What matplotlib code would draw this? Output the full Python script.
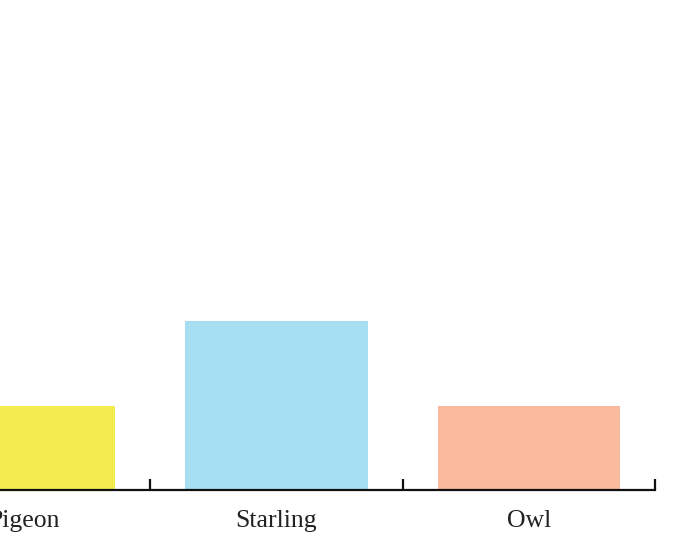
import matplotlib
matplotlib.use("Agg")
import matplotlib.pyplot as plt
from matplotlib.ticker import FixedLocator

categories = ["Pigeon", "Starling", "Owl"]
values = [1, 2, 1]
colors = ["#F2EC4E", "#A5DEF1", "#F8B99D"]

W, H = 694, 549
fig = plt.figure(figsize=(W / 100, H / 100), dpi=100)
left_px, right_px = -102, 655
base_px, top_px = 490, 0
ax = fig.add_axes([left_px / W, (H - base_px) / H, (right_px - left_px) / W, (base_px - top_px) / H])

x = list(range(len(categories)))
ax.bar(x, values, width=182 / 252, color=colors)
ax.set_xlim(-0.5, len(categories) - 0.5)
ax.set_ylim(0, 2 * 490 / 169)

for s in ["top", "right", "left"]:
    ax.spines[s].set_visible(False)
ax.spines["bottom"].set_linewidth(1.6)
ax.spines["bottom"].set_color("#111111")
ax.set_yticks([])

ax.xaxis.set_major_locator(FixedLocator([i - 0.5 for i in range(len(categories) + 1)]))
ax.xaxis.set_major_formatter(plt.NullFormatter())
ax.tick_params(axis="x", which="major", direction="in", length=8, width=1.6, color="#111111")
ax.xaxis.set_minor_locator(FixedLocator(x))
ax.set_xticks(x, categories, minor=True)
ax.tick_params(axis="x", which="minor", length=0, pad=14.5, labelsize=18.5, labelcolor="#222222")
for lab in ax.get_xticklabels(minor=True):
    lab.set_family(["Liberation Serif", "DejaVu Serif"])

fig.savefig("out.png", dpi=100)
